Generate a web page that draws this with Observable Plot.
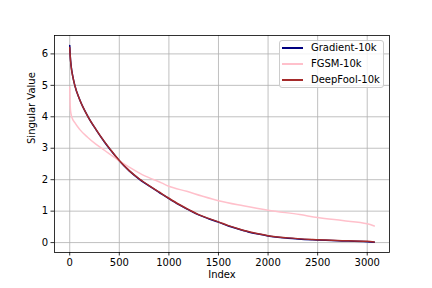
<!DOCTYPE html>
<html>
<head>
<meta charset="utf-8">
<script src="https://cdn.jsdelivr.net/npm/d3@7"></script>
<script src="https://cdn.jsdelivr.net/npm/@observablehq/plot@0.6"></script>
<style>
  html, body { margin: 0; padding: 0; background: white; }
  #wrap { position: relative; width: 432px; height: 288px; font-family: "DejaVu Sans", sans-serif; }
  #legend { position: absolute; left: 279px; top: 40px; width: 105px; height: 48px;
    border: 1px solid #cccccc; border-radius: 3px; background: rgba(255,255,255,0.8); box-sizing: border-box; }
  .row { position: absolute; left: 0; height: 14px; font-size: 10px; line-height: 14px; white-space: nowrap; color: #000; }
  .sw { position: absolute; left: 2px; top: 6px; width: 21px; height: 1.5px; }
  .lab { position: absolute; left: 31px; top: 0; }
</style>
</head>
<body>
<div id="wrap"><div id="legend"></div></div>
<script>
// ---- data ----
const gradientIdx = [0, 5, 15, 30, 51, 100, 185, 263, 350, 415, 500, 600, 700, 800, 900, 1000, 1100, 1200, 1300, 1400, 1500, 1600, 1700, 1800, 1900, 2000, 2200, 2450, 2700, 3000, 3071];
const gradientVal = [6.27, 5.95, 5.6, 5.3, 5.0, 4.55, 4.0, 3.6, 3.2, 2.93, 2.60, 2.28, 2.02, 1.80, 1.60, 1.40, 1.21, 1.04, 0.88, 0.76, 0.65, 0.53, 0.43, 0.34, 0.27, 0.21, 0.14, 0.09, 0.06, 0.03, 0.01];

const fgsmIdx = [0, 3, 8, 20, 50, 100, 180, 263, 330, 400, 500, 600, 757, 850, 925, 1000, 1180, 1333, 1500, 1750, 2000, 2320, 2500, 2750, 3000, 3071];
const fgsmVal = [4.95, 4.5, 4.2, 4.0, 3.82, 3.6, 3.35, 3.13, 2.98, 2.82, 2.60, 2.40, 2.12, 2.0, 1.9, 1.79, 1.63, 1.48, 1.33, 1.17, 1.03, 0.89, 0.80, 0.70, 0.60, 0.53];

const deepfoolIdx = [0, 5, 15, 30, 51, 100, 185, 263, 350, 415, 500, 600, 700, 800, 900, 1000, 1100, 1200, 1300, 1400, 1500, 1600, 1700, 1800, 1900, 2000, 2200, 2450, 2700, 3000, 3071];
const deepfoolVal = [6.20, 5.92, 5.58, 5.29, 5.0, 4.55, 4.0, 3.61, 3.21, 2.94, 2.61, 2.29, 2.03, 1.81, 1.61, 1.41, 1.22, 1.05, 0.89, 0.77, 0.66, 0.54, 0.44, 0.35, 0.28, 0.22, 0.15, 0.10, 0.07, 0.04, 0.02];

const seriesNames = ["Gradient-10k", "FGSM-10k", "DeepFool-10k"];
const seriesColors = ["navy", "pink", "#a52a2a"];
const xTicks = [0, 500, 1000, 1500, 2000, 2500, 3000];
const yTicks = [0, 1, 2, 3, 4, 5, 6];
const xLabel = "Index";
const yLabel = "Singular Value";

// ---- build table ----
const table = [];
[[gradientIdx, gradientVal], [fgsmIdx, fgsmVal], [deepfoolIdx, deepfoolVal]].forEach(([ix, vs], k) => {
  ix.forEach((x, i) => table.push({series: seriesNames[k], x, y: vs[i]}));
});

const chart = Plot.plot({
  width: 432,
  height: 288,
  marginLeft: 54,
  marginRight: 43,
  marginTop: 35,
  marginBottom: 36,
  style: {fontFamily: "DejaVu Sans", fontSize: "10px", color: "black", background: "white", overflow: "visible"},
  x: {domain: [-153.55, 3224.55]},
  y: {domain: [-0.315, 6.585]},
  color: {domain: seriesNames, range: seriesColors},
  marks: [
    Plot.gridX(xTicks, {stroke: "#b0b0b0", strokeOpacity: 1, strokeWidth: 0.8}),
    Plot.gridY(yTicks, {stroke: "#b0b0b0", strokeOpacity: 1, strokeWidth: 0.8}),
    Plot.line(table, {x: "x", y: "y", z: "series", stroke: "series", strokeWidth: 1.5, curve: "monotone-x"}),
    Plot.frame({stroke: "black", strokeWidth: 0.8}),
    Plot.axisX(xTicks, {tickSize: 3.5, tickPadding: 3, strokeWidth: 0.8, label: null, fontSize: 10, tickFormat: d => String(d)}),
    Plot.axisY(yTicks, {tickSize: 3.5, tickPadding: 3, strokeWidth: 0.8, label: null, fontSize: 10, tickFormat: d => String(d)}),
    Plot.text([xLabel], {frameAnchor: "bottom", dy: 25, fontSize: 10, fill: "black"}),
    Plot.text([yLabel], {frameAnchor: "left", rotate: -90, dx: -23, fontSize: 10, fill: "black"})
  ]
});
document.getElementById("wrap").prepend(chart);

const legend = document.getElementById("legend");
seriesNames.forEach((name, i) => {
  const row = document.createElement("div");
  row.className = "row";
  row.style.top = (0 + i * 16) + "px";
  row.style.width = "100%";
  const sw = document.createElement("span");
  sw.className = "sw";
  sw.style.background = seriesColors[i];
  const lab = document.createElement("span");
  lab.className = "lab";
  lab.textContent = name;
  row.appendChild(sw);
  row.appendChild(lab);
  legend.appendChild(row);
});
</script>
</body>
</html>
